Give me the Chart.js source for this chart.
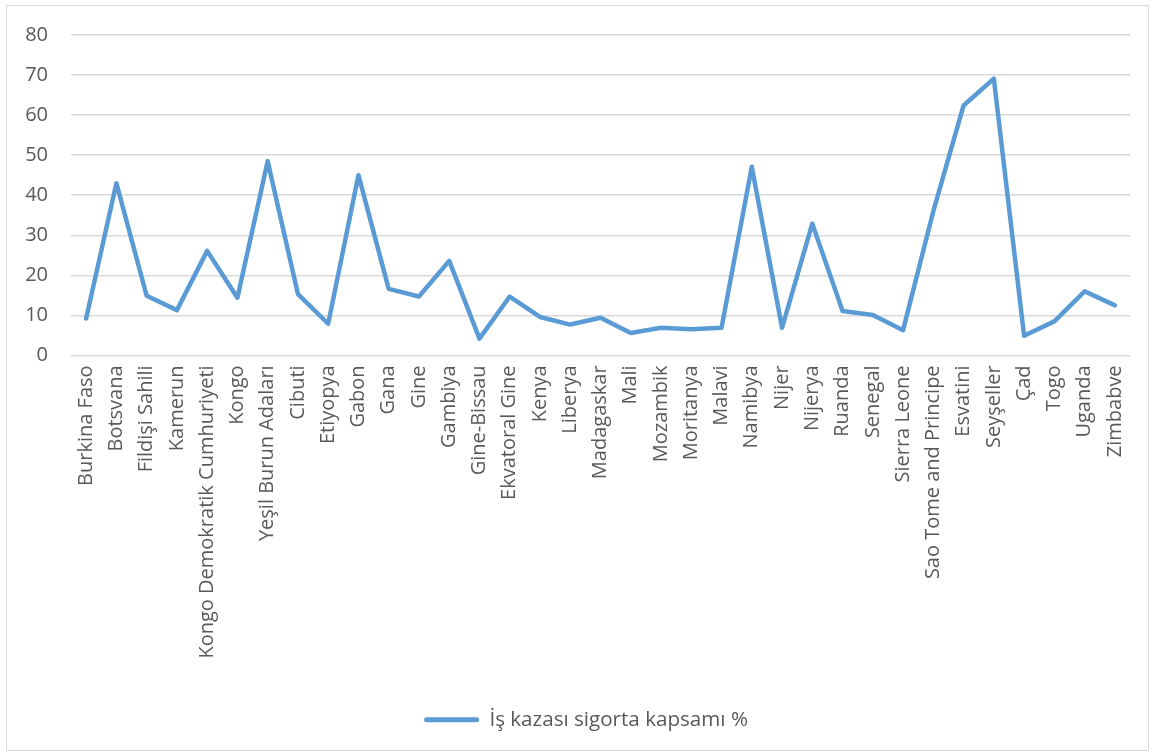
<!DOCTYPE html>
<html lang="tr">
<head>
<meta charset="utf-8">
<title>İş kazası sigorta kapsamı</title>
<script src="https://cdn.jsdelivr.net/npm/chart.js@4.4.1/dist/chart.umd.min.js"></script>
<style>
  html, body { margin: 0; padding: 0; background: #fff; }
  #wrap { position: relative; width: 1155px; height: 756px; }
  #frame { position: absolute; left: 6px; top: 5px; width: 1143px; height: 746px; border: 1px solid #d9d9d9; box-sizing: border-box; pointer-events: none; }
</style>
</head>
<body>
<div id="wrap">
  <canvas id="chart" width="1155" height="756"></canvas>
  <div id="frame"></div>
</div>
<script>
const countries = [
  'Burkina Faso', 'Botsvana', 'Fildişi Sahili', 'Kamerun', 'Kongo Demokratik Cumhuriyeti',
  'Kongo', 'Yeşil Burun Adaları', 'Cibuti', 'Etiyopya', 'Gabon', 'Gana', 'Gine', 'Gambiya',
  'Gine-Bissau', 'Ekvatoral Gine', 'Kenya', 'Liberya', 'Madagaskar', 'Mali', 'Mozambik',
  'Moritanya', 'Malavi', 'Namibya', 'Nijer', 'Nijerya', 'Ruanda', 'Senegal', 'Sierra Leone',
  'Sao Tome and Principe', 'Esvatini', 'Seyşeller', 'Çad', 'Togo', 'Uganda', 'Zimbabve'
];
const coverage = [
  9.2, 43.0, 14.9, 11.3, 26.1,
  14.4, 48.5, 15.3, 7.9, 45.0, 16.6, 14.7, 23.6,
  4.2, 14.7, 9.6, 7.7, 9.4, 5.6, 6.9,
  6.5, 6.9, 47.1, 6.9, 32.9, 11.1, 10.1, 6.3,
  36.0, 62.4, 69.1, 4.9, 8.5, 16.0, 12.5
];
const seriesName = 'İş kazası sigorta kapsamı %';
const yMin = 0, yMax = 80, yStep = 10;

const textColor = '#595959';
const gridColor = '#d9d9d9';
const lineColor = '#5b9bd5';
const fontFamily = "'Open Sans', 'Noto Sans', sans-serif";

// nudge the legend so it sits centred on the whole frame, like the original
const legendShift = {
  id: 'legendShift',
  afterLayout(chart) {
    const lg = chart.legend;
    if (!lg) return;
    lg.left += 21; lg.right += 21;
    lg.top += 2; lg.bottom += 2;
  }
};

const ctx = document.getElementById('chart').getContext('2d');
new Chart(ctx, {
  type: 'line',
  data: {
    labels: countries,
    datasets: [{
      label: seriesName,
      data: coverage,
      borderColor: lineColor,
      backgroundColor: lineColor,
      borderWidth: 4.5,
      borderCapStyle: 'round',
      borderJoinStyle: 'round',
      pointRadius: 0,
      tension: 0,
      fill: false
    }]
  },
  plugins: [legendShift],
  options: {
    responsive: false,
    animation: false,
    layout: { padding: { top: 27, right: 25, bottom: 18, left: 0 } },
    plugins: {
      tooltip: { enabled: false },
      legend: {
        position: 'bottom',
        labels: {
          color: textColor,
          font: { family: fontFamily, size: 20.6 },
          boxWidth: 55,
          boxHeight: 5,
          useBorderRadius: true,
          borderRadius: 2.5,
          padding: 10,
          generateLabels: (chart) => [{
            text: seriesName,
            fillStyle: lineColor,
            strokeStyle: lineColor,
            lineWidth: 0,
            datasetIndex: 0,
            fontColor: textColor,
            borderRadius: 2.5
          }]
        }
      }
    },
    scales: {
      x: {
        offset: true,
        grid: { display: false, drawTicks: false },
        border: { display: false },
        ticks: {
          autoSkip: false,
          minRotation: 90,
          maxRotation: 90,
          padding: 10,
          color: textColor,
          font: { family: fontFamily, size: 20 }
        },
        afterFit: (scale) => { scale.height = 342; }
      },
      y: {
        min: yMin,
        max: yMax,
        grid: { color: gridColor, lineWidth: 1.5, drawTicks: false },
        border: { display: false },
        ticks: {
          stepSize: yStep,
          padding: 23,
          color: textColor,
          font: { family: fontFamily, size: 20 }
        },
        afterFit: (scale) => { scale.width = 71; }
      }
    }
  }
});
</script>
</body>
</html>
